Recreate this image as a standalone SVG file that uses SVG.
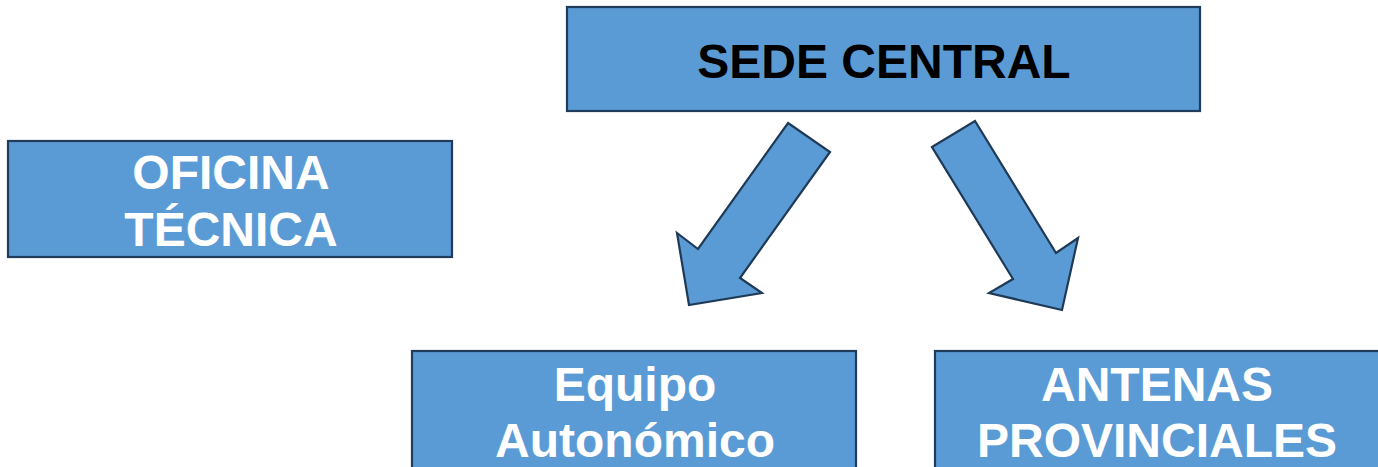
<svg xmlns="http://www.w3.org/2000/svg" width="1378" height="467" viewBox="0 0 1378 467">
<style>
.box{fill:#5B9BD5;stroke:#203B5C;stroke-width:2.2}
.arr{fill:#5B9BD5;stroke:#1E3A56;stroke-width:2.2;stroke-linejoin:miter}
.t{font-family:"Liberation Sans",Arial,sans-serif;font-weight:bold;font-size:48px;text-anchor:middle}
.w{fill:#FFFFFF}
.k{fill:#000000}
</style>
<g id="sede-central">
<rect class="box" x="567" y="7" width="633" height="104"/>
<text class="t k" x="884" y="78">SEDE CENTRAL</text>
</g>
<g id="oficina-tecnica">
<rect class="box" x="8" y="141" width="444" height="116"/>
<text class="t w" x="231" y="189">OFICINA</text>
<text class="t w" x="231" y="246">TÉCNICA</text>
</g>
<g id="equipo-autonomico">
<rect class="box" x="412" y="351" width="444" height="130"/>
<text class="t w" x="635" y="401">Equipo</text>
<text class="t w" x="635" y="457">Autonómico</text>
</g>
<g id="antenas-provinciales">
<rect class="box" x="935" y="351" width="450" height="130"/>
<text class="t w" x="1157" y="401">ANTENAS</text>
<text class="t w" x="1157" y="457">PROVINCIALES</text>
</g>
<g id="connectors">
<polygon class="arr" points="788,123 830,152 740,278 762,293 689,305 677,233 698,249"/>
<polygon class="arr" points="932,147 975,121 1056,253 1078,238 1062,310 989,293 1013,279"/>
</g>
</svg>
